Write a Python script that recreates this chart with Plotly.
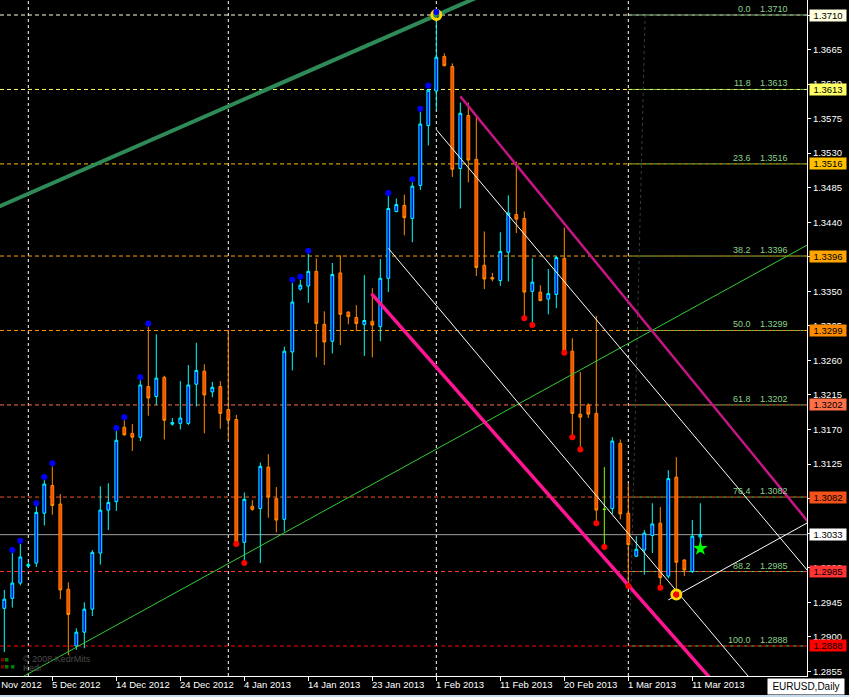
import plotly.graph_objects as go

# ---------------- data ----------------
bars = list(range(88))
opens = [1.2937, 1.2950, 1.2970, 1.2992, 1.2996, 1.3061, 1.3097, 1.3073, 1.2962, 1.2888,
         1.2906, 1.2936, 1.3009, 1.3065, 1.3076, 1.3173, 1.3165, 1.3160, 1.3226, 1.3213,
         1.3238, 1.3177, 1.3178, 1.3178, 1.3229, 1.3246, 1.3219, 1.3226, 1.3196, 1.3183,
         1.3023, 1.3070, 1.3067, 1.3121, 1.3080, 1.3053, 1.3271, 1.3353, 1.3357, 1.3376,
         1.3307, 1.3285, 1.3374, 1.3323, 1.3316, 1.3307, 1.3311, 1.3304, 1.3367, 1.3454,
         1.3462, 1.3445, 1.3488, 1.3566, 1.3611, 1.3656, 1.3643, 1.3510, 1.3579, 1.3522,
         1.3384, 1.3368, 1.3364, 1.3401, 1.3450, 1.3445, 1.3350, 1.3349, 1.3340, 1.3346,
         1.3393, 1.3272, 1.3190, 1.3202, 1.3191, 1.3066, 1.3067, 1.3152, 1.3061, 1.3005,
         1.3013, 1.3032, 1.3048, 1.2979, 1.3108, 1.3000, 1.2985, 1.3030]
highs = [1.2961, 1.3009, 1.3021, 1.2998, 1.3070, 1.3104, 1.3122, 1.3086, 1.2971, 1.2911,
         1.2945, 1.3013, 1.3096, 1.3100, 1.3168, 1.3182, 1.3177, 1.3234, 1.3304, 1.3294,
         1.3240, 1.3185, 1.3233, 1.3254, 1.3283, 1.3255, 1.3232, 1.3233, 1.3300, 1.3189,
         1.3088, 1.3078, 1.3127, 1.3138, 1.3095, 1.3278, 1.3361, 1.3365, 1.3399, 1.3393,
         1.3324, 1.3387, 1.3397, 1.3324, 1.3332, 1.3371, 1.3354, 1.3392, 1.3474, 1.3471,
         1.3476, 1.3492, 1.3584, 1.3614, 1.3710, 1.3660, 1.3647, 1.3596, 1.3596, 1.3577,
         1.3428, 1.3374, 1.3427, 1.3475, 1.3519, 1.3454, 1.3393, 1.3358, 1.3379, 1.3396,
         1.3433, 1.3289, 1.3245, 1.3204, 1.3318, 1.3121, 1.3160, 1.3157, 1.3100, 1.3031,
         1.3039, 1.3074, 1.3069, 1.3117, 1.3134, 1.3001, 1.3052, 1.3074]
lows = [1.2880, 1.2938, 1.2967, 1.2991, 1.2991, 1.3045, 1.3059, 1.2949, 1.2876, 1.2883,
        1.2885, 1.2927, 1.2994, 1.3039, 1.3064, 1.3162, 1.3142, 1.3155, 1.3188, 1.3202,
        1.3157, 1.3175, 1.3170, 1.3176, 1.3200, 1.3165, 1.3212, 1.3171, 1.3156, 1.3021,
        1.2996, 1.3064, 1.2996, 1.3055, 1.3036, 1.3037, 1.3247, 1.3351, 1.3335, 1.3264,
        1.3254, 1.3269, 1.3280, 1.3307, 1.3298, 1.3266, 1.3264, 1.3285, 1.3349, 1.3453,
        1.3423, 1.3414, 1.3482, 1.3540, 1.3586, 1.3643, 1.3499, 1.3458, 1.3492, 1.3370,
        1.3353, 1.3363, 1.3357, 1.3363, 1.3426, 1.3315, 1.3306, 1.3337, 1.3320, 1.3328,
        1.3270, 1.3160, 1.3144, 1.3185, 1.3048, 1.3017, 1.3060, 1.3053, 1.2966, 1.3004,
        1.2981, 1.3009, 1.2964, 1.2976, 1.2955, 1.2979, 1.2983, 1.3010]
closes = [1.2949, 1.2970, 1.3004, 1.2994, 1.3062, 1.3099, 1.3071, 1.2961, 1.2929, 1.2906,
          1.2936, 1.3010, 1.3065, 1.3075, 1.3156, 1.3163, 1.3160, 1.3228, 1.3211, 1.3237,
          1.3182, 1.3179, 1.3185, 1.3228, 1.3247, 1.3215, 1.3225, 1.3191, 1.3182, 1.3022,
          1.3079, 1.3066, 1.3122, 1.3082, 1.3052, 1.3272, 1.3336, 1.3358, 1.3376, 1.3308,
          1.3284, 1.3372, 1.3320, 1.3317, 1.3308, 1.3312, 1.3306, 1.3367, 1.3458, 1.3463,
          1.3446, 1.3487, 1.3568, 1.3612, 1.3655, 1.3644, 1.3509, 1.3582, 1.3521, 1.3381,
          1.3366, 1.3366, 1.3402, 1.3452, 1.3444, 1.3349, 1.3362, 1.3338, 1.3347, 1.3394,
          1.3271, 1.3191, 1.3186, 1.3190, 1.3065, 1.3066, 1.3155, 1.3060, 1.3020, 1.3014,
          1.3035, 1.3047, 1.2977, 1.3106, 1.2997, 1.2987, 1.3031, 1.3033]
doji_bars = [75]

xlabel_bars = [-2, 6, 14, 22, 30, 38, 46, 54, 62, 70, 78, 86]
xlabel_text = ["30 Nov 2012", "5 Dec 2012", "14 Dec 2012", "24 Dec 2012", "4 Jan 2013",
               "14 Jan 2013", "23 Jan 2013", "1 Feb 2013", "11 Feb 2013", "20 Feb 2013",
               "1 Mar 2013", "11 Mar 2013"]
month_start_bars = [3, 28, 54, 78]

ytick_vals = [round(1.2855 + 0.0045 * k, 4) for k in range(20)]

fib_levels = ["0.0", "11.8", "23.6", "38.2", "50.0", "61.8", "76.4", "88.2", "100.0"]
fib_prices = [1.3710, 1.3613, 1.3516, 1.3396, 1.3299, 1.3202, 1.3082, 1.2985, 1.2888]
fib_colors = ["#FFFFE0", "#FFFF66", "#FFC000", "#FFA500", "#FF8C00", "#FF7048",
              "#F4521A", "#FF3434", "#FF0000"]
fib_start_bar = 78
bid_price = 1.3033

blue_dot_bars = [1, 2, 4, 5, 6, 14, 15, 17, 18, 36, 37, 38, 48, 51, 52, 53, 54]
red_dot_bars = [29, 30, 65, 66, 70, 71, 72, 74, 75, 78, 82, 84]
circle_bars = [54, 84]
circle_prices = [1.3710, 1.2955]
star_bar = [87]
star_price = [1.3015]

# trendline anchors (bar, price)
seagreen_line = ([-1, 60], [1.3459, 1.3737])
lime_line = ([-1, 101], [1.2829, 1.3414])
pink_lower = ([45.9, 89], [1.3347, 1.2837])
pink_upper = ([57.0, 101], [1.3604, 1.3043])
white_a = ([54.05, 101], [1.3560, 1.2979])
white_b = ([48.0, 94], [1.3406, 1.2836])
white_c = ([83.0, 101], [1.2948, 1.3052])
fib_diag = ([80.1, 78.15], [1.3710, 1.2888])

# ---------------- styling ----------------
X_RANGE = [-0.54, 100.335]
Y_RANGE = [1.284889, 1.372954]
PLOT_W, PLOT_H = 807, 676
FONT = "Liberation Sans, Arial, sans-serif"
BULL_LINE, BULL_FILL = "#00FFFF", "#0000FF"
BEAR_LINE, BEAR_FILL = "#FF8C00", "#FF4500"


def px_x(px):
    return px / PLOT_W


def px_y(py):
    return (PLOT_H - py) / PLOT_H


fig = go.Figure()

main = [i for i in bars if i not in doji_bars]
fig.add_trace(go.Candlestick(
    x=main, open=[opens[i] for i in main], high=[highs[i] for i in main],
    low=[lows[i] for i in main], close=[closes[i] for i in main],
    increasing=dict(line=dict(color=BULL_LINE, width=1), fillcolor=BULL_FILL),
    decreasing=dict(line=dict(color=BEAR_LINE, width=1), fillcolor=BEAR_FILL),
    whiskerwidth=0, hoverinfo="skip", showlegend=False))
fig.add_trace(go.Candlestick(
    x=doji_bars, open=[opens[i] for i in doji_bars], high=[highs[i] for i in doji_bars],
    low=[lows[i] for i in doji_bars], close=[closes[i] for i in doji_bars],
    increasing=dict(line=dict(color="#7FFF00", width=1), fillcolor="#7FFF00"),
    decreasing=dict(line=dict(color="#7FFF00", width=1), fillcolor="#7FFF00"),
    whiskerwidth=0, hoverinfo="skip", showlegend=False))


def add_line(pts, color, width, dash="solid"):
    fig.add_trace(go.Scatter(x=pts[0], y=pts[1], mode="lines",
                             line=dict(color=color, width=width, dash=dash),
                             hoverinfo="skip", showlegend=False))


add_line(fib_diag, "#3A3A3A", 1, "dot")
add_line(seagreen_line, "#2E8B57", 4)
add_line(lime_line, "#32CD32", 1)
add_line(pink_lower, "#FF1493", 3.5)
add_line(pink_upper, "#C71585", 2.5)
add_line(white_a, "#FFFFFF", 1)
add_line(white_b, "#FFFFFF", 1)
add_line(white_c, "#FFFFFF", 1)

fig.add_trace(go.Scatter(x=circle_bars, y=circle_prices, mode="markers",
                         marker=dict(symbol="circle-open", size=9, color="#FFD700",
                                     line=dict(width=3, color="#FFD700")),
                         hoverinfo="skip", showlegend=False))
DOT_OFF = 0.0004
fig.add_trace(go.Scatter(x=blue_dot_bars, y=[highs[i] + DOT_OFF for i in blue_dot_bars],
                         mode="markers", marker=dict(size=6, color="#0000FF"),
                         hoverinfo="skip", showlegend=False))
fig.add_trace(go.Scatter(x=red_dot_bars, y=[lows[i] for i in red_dot_bars],
                         mode="markers", marker=dict(size=6, color="#FF0000"),
                         hoverinfo="skip", showlegend=False))
fig.add_trace(go.Scatter(x=star_bar, y=star_price, mode="markers",
                         marker=dict(symbol="star", size=11, color="#00FF00"),
                         hoverinfo="skip", showlegend=False))

shapes = []
for b in month_start_bars:
    shapes.append(dict(type="line", xref="x", yref="paper", x0=b, x1=b, y0=0, y1=1,
                       line=dict(color="#FFFFFF", width=1, dash="3px,3px"), layer="below"))
shapes.append(dict(type="line", xref="paper", yref="y", x0=0, x1=1, y0=bid_price, y1=bid_price,
                   line=dict(color="#A0A0A0", width=1), layer="below"))
for p, c in zip(fib_prices, fib_colors):
    shapes.append(dict(type="line", xref="x", yref="y", x0=X_RANGE[0], x1=fib_start_bar,
                       y0=p, y1=p, line=dict(color=c, width=1, dash="4px,3px"), layer="below"))
    shapes.append(dict(type="line", xref="x", yref="y", x0=fib_start_bar, x1=X_RANGE[1],
                       y0=p, y1=p, line=dict(color=c, width=1, dash="4px,3px"), layer="below"))
    shapes.append(dict(type="line", xref="x", yref="y", x0=fib_start_bar, x1=X_RANGE[1],
                       y0=p, y1=p, line=dict(color="#66CC66", width=1, dash="0px,4px,3px,0px"),
                       layer="below"))

# watermark squares
sq = [(1, 658, "#800000"), (5, 658, "#008000"), (1, 665, "#800000"), (5, 665, "#008000"),
      (11, 665, "#008000")]
for sx, sy, sc in sq:
    shapes.append(dict(type="rect", xref="paper", yref="paper", x0=px_x(sx), x1=px_x(sx + 3.5),
                       y0=px_y(sy + 3.5), y1=px_y(sy), fillcolor=sc, line=dict(width=0)))
# window border strip
shapes.append(dict(type="rect", xref="paper", yref="paper", x0=0, x1=849 / PLOT_W,
                   y0=px_y(697), y1=px_y(695), fillcolor="#C8DCF0", line=dict(width=0)))

ann = []
for b, t in zip(xlabel_bars, xlabel_text):
    if X_RANGE[0] <= b <= X_RANGE[1]:
        ann.append(dict(x=b, xref="x", y=px_y(685), yref="paper", text=t, showarrow=False,
                        xanchor="left", yanchor="middle", xshift=-2,
                        font=dict(color="white", size=9.5, family=FONT)))
    else:
        ann.append(dict(x=(b - X_RANGE[0]) / (X_RANGE[1] - X_RANGE[0]), xref="paper",
                        y=px_y(685), yref="paper", text=t, showarrow=False,
                        xanchor="left", yanchor="middle", xshift=-2,
                        font=dict(color="white", size=9.5, family=FONT)))

for lv, p, c in zip(fib_levels, fib_prices, fib_colors):
    ann.append(dict(x=px_x(753), xref="paper", y=p, yref="y", text=lv, showarrow=False,
                    xanchor="right", yanchor="middle", yshift=6,
                    font=dict(color="#8CD28C", size=9, family=FONT)))
    ann.append(dict(x=px_x(758), xref="paper", y=p, yref="y", text=f"{p:.4f}", showarrow=False,
                    xanchor="left", yanchor="middle", yshift=6,
                    font=dict(color="#8CD28C", size=9, family=FONT)))
    ann.append(dict(x=1, xref="paper", y=p, yref="y", text=f"{p:.4f}", showarrow=False,
                    xanchor="left", yanchor="middle", xshift=2, width=36, height=11,
                    bgcolor=c, borderpad=0,
                    font=dict(color="black", size=9.5, family=FONT)))
ann.append(dict(x=1, xref="paper", y=bid_price, yref="y", text=f"{bid_price:.4f}", showarrow=False,
                xanchor="left", yanchor="middle", xshift=2, width=36, height=11,
                bgcolor="#FFFFFF", borderpad=0, font=dict(color="black", size=9.5, family=FONT)))

ann.append(dict(x=px_x(767), xref="paper", y=px_y(686), yref="paper", text="EURUSD,Daily",
                showarrow=False, xanchor="left", yanchor="middle", width=76, height=15,
                bgcolor="#FFFFFF", borderpad=0, font=dict(color="black", size=10, family=FONT)))
ann.append(dict(x=px_x(21), xref="paper", y=px_y(658.5), yref="paper", text="© 2008 KedrMits",
                showarrow=False, xanchor="left", yanchor="middle",
                font=dict(color="#4A4A4A", size=9, family=FONT)))
ann.append(dict(x=px_x(21), xref="paper", y=px_y(668), yref="paper", text="Kedr",
                showarrow=False, xanchor="left", yanchor="middle",
                font=dict(color="#4A4A4A", size=9, family=FONT)))

fig.update_layout(
    width=849, height=697, margin=dict(l=0, r=42, t=0, b=21),
    paper_bgcolor="black", plot_bgcolor="black", showlegend=False, boxgap=0.5,
    shapes=shapes, annotations=ann,
    xaxis=dict(range=X_RANGE, showgrid=False, zeroline=False, showline=True,
               linecolor="white", linewidth=1, ticks="outside", ticklen=4,
               tickcolor="white", tickvals=xlabel_bars[1:], showticklabels=False,
               rangeslider=dict(visible=False), fixedrange=True, automargin=False),
    yaxis=dict(range=Y_RANGE, side="right", showgrid=False, zeroline=False, showline=True,
               linecolor="white", linewidth=1, ticks="outside", ticklen=3, tickcolor="white",
               tickvals=ytick_vals, tickformat=".4f", automargin=False,
               tickfont=dict(color="white", size=9.5, family=FONT), fixedrange=True),
)

fig.write_html("out.html", config={"displayModeBar": False},
               post_script="document.body.style.margin='0';document.body.style.background='black';")
